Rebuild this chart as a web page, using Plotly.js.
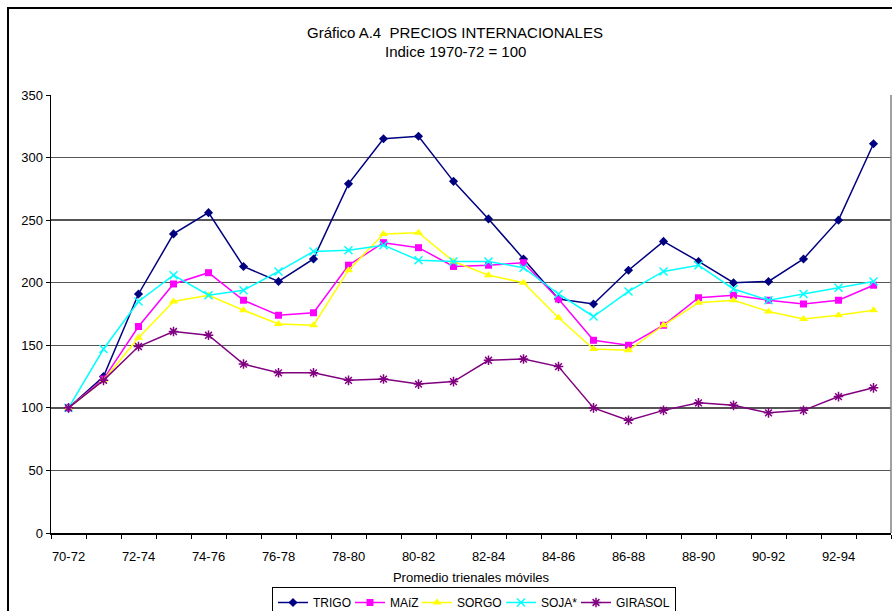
<!DOCTYPE html>
<html>
<head>
<meta charset="utf-8">
<script src="https://cdn.plot.ly/plotly-3.0.1.min.js"></script>
<style>
html,body{margin:0;padding:0;background:#fff;}
#chart{width:892px;height:611px;}
</style>
</head>
<body>
<div id="chart"></div>
<script>
const categories = ["70-72","71-73","72-74","73-75","74-76","75-77","76-78","77-79","78-80","79-81","80-82","81-83","82-84","83-85","84-86","85-87","86-88","87-89","88-90","89-91","90-92","91-93","92-94","93-95"];
const trigo   = [100,125,191,239,256,213,201,219,279,315,317,281,251,219,187,183,210,233,217,200,201,219,250,311];
const maiz    = [100,123,165,199,208,186,174,176,214,232,228,213,214,216,187,154,150,166,188,190,186,183,186,198];
const sorgo   = [100,122,156,185,190,178,167,166,210,239,240,217,206,200,172,147,146,166,184,186,177,171,174,178];
const soja    = [100,147,185,206,190,194,209,225,226,230,218,217,217,212,191,173,193,209,214,195,186,191,196,201];
const girasol = [100,122,149,161,158,135,128,128,122,123,119,121,138,139,133,100,90,98,104,102,96,98,109,116];
const seriesNames = ["TRIGO","MAíZ","SORGO","SOJA*","GIRASOL"];
const yTicks = [0,50,100,150,200,250,300,350];

const xIdx = categories.map((c,i)=>i);
const labelIdx = xIdx.filter(i => i % 2 === 0);
const labelText = labelIdx.map(i => categories[i]);

function tr(name, y, color, symbol, size, open, lw){
  const t = {
    type:'scatter', mode:'lines+markers', name:name, x:xIdx, y:y,
    line:{color:color, width:1.5},
    marker:{color:color, symbol:symbol, size:size, line:{color:color, width: open?1.5:0}},
    cliponaxis:false
  };
  if (lw) t.legendwidth = lw;
  return t;
}
const data = [
  tr(seriesNames[0], trigo,  '#000080', 'diamond', 7, false, 32),
  tr(seriesNames[1], maiz,   '#FF00FF', 'square', 7, false, 22),
  tr(seriesNames[2], sorgo,  '#FFFF00', 'triangle-up', 8, false, 39),
  tr(seriesNames[3], soja,   '#00FFFF', 'x-thin-open', 8, true, 30),
  tr(seriesNames[4], girasol,'#800080', 'asterisk-open', 8, true, null)
];

const L=51, R=1, T=95, B=78, W=892, H=611;
const pw = W-L-R, ph = H-T-B;
const px = v => (v-L)/pw;
const py = v => (H-B-v)/ph;

const layout = {
  width:W, height:H,
  margin:{l:L, r:R, t:T, b:B, pad:0, autoexpand:false},
  paper_bgcolor:'#fff', plot_bgcolor:'#fff',
  font:{family:'Liberation Sans, Arial, sans-serif', size:13, color:'#000'},
  showlegend:true,
  legend:{orientation:'h', xref:'paper', x:px(474), xanchor:'center', yref:'container', y:(H-587)/H, yanchor:'top',
    bordercolor:'#000', borderwidth:1, bgcolor:'#fff',
    font:{size:12}, itemwidth:30, traceorder:'normal'},
  xaxis:{
    range:[-0.5, categories.length-0.5], tickmode:'array', tickvals:labelIdx, ticktext:labelText,
    ticks:'', ticklabelstandoff:11, showgrid:false, zeroline:false, automargin:false,
    showline:true, linecolor:'#000', linewidth:1.5,
    minor:{tickmode:'linear', tick0:-0.5, dtick:1, ticks:'outside', ticklen:4, tickcolor:'#000', tickwidth:1, showgrid:false},
    tickfont:{size:13},
    title:{text:'Promedio trienales móviles', font:{size:13}, standoff:10}
  },
  yaxis:{
    range:[0,350], tickmode:'array', tickvals:yTicks, ticks:'outside', ticklen:4, tickcolor:'#000',
    showline:true, linecolor:'#000', linewidth:1.5, zeroline:false, automargin:false,
    showgrid:true, gridcolor:'#555', gridwidth:1.3, tickfont:{size:13}
  },
  shapes:[
    {type:'line', xref:'paper', yref:'paper', x0:1, x1:1, y0:0, y1:1, line:{color:'#808080', width:1.5}},
    {type:'rect', xref:'paper', yref:'paper', x0:px(8), x1:px(960), y0:py(700), y1:py(8), line:{color:'#000', width:2}, fillcolor:'rgba(0,0,0,0)', layer:'below'}
  ],
  annotations:[
    {xref:'paper', yref:'paper', x:px(455), y:py(33), text:'Gráfico A.4\u00a0\u00a0PRECIOS INTERNACIONALES', showarrow:false, font:{size:15}, xanchor:'center', yanchor:'middle'},
    {xref:'paper', yref:'paper', x:px(455), y:py(52), text:'Indice 1970-72 = 100', showarrow:false, font:{size:15}, xanchor:'center', yanchor:'middle'}
  ]
};

Plotly.newPlot('chart', data, layout, {displayModeBar:false, staticPlot:true});
</script>
</body>
</html>
